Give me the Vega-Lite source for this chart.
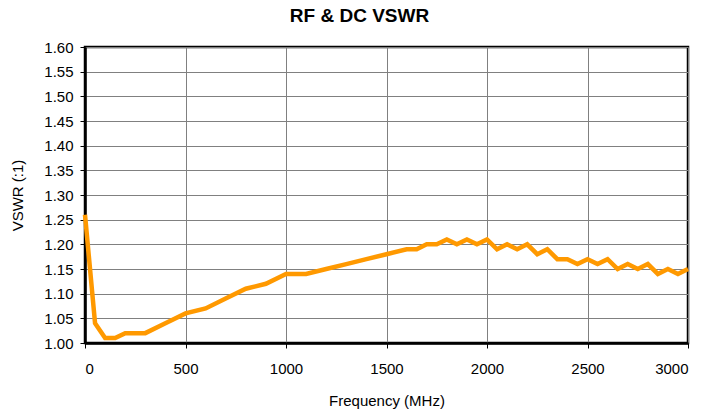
{
  "$schema": "https://vega.github.io/schema/vega-lite/v6.json",
  "autosize": "none",
  "width": 603,
  "height": 296,
  "padding": {"left": 85, "top": 47, "right": 35, "bottom": 71},
  "background": "white",
  "config": {
    "font": "Liberation Sans",
    "view": {"stroke": "black", "strokeWidth": 2.5}
  },
  "title": {
    "text": "RF & DC VSWR",
    "fontSize": 19,
    "fontWeight": "bold",
    "font": "Liberation Sans",
    "color": "black",
    "anchor": "middle",
    "frame": "group",
    "dx": -27,
    "offset": 14
  },
  "data": {
    "values": [
      {"f": 0, "v": 1.26},
      {"f": 50, "v": 1.04},
      {"f": 100, "v": 1.01},
      {"f": 150, "v": 1.01},
      {"f": 200, "v": 1.02},
      {"f": 300, "v": 1.02},
      {"f": 400, "v": 1.04},
      {"f": 500, "v": 1.06},
      {"f": 600, "v": 1.07},
      {"f": 700, "v": 1.09},
      {"f": 800, "v": 1.11},
      {"f": 900, "v": 1.12},
      {"f": 1000, "v": 1.14},
      {"f": 1100, "v": 1.14},
      {"f": 1200, "v": 1.15},
      {"f": 1300, "v": 1.16},
      {"f": 1400, "v": 1.17},
      {"f": 1500, "v": 1.18},
      {"f": 1600, "v": 1.19},
      {"f": 1650, "v": 1.19},
      {"f": 1700, "v": 1.2},
      {"f": 1750, "v": 1.2},
      {"f": 1800, "v": 1.21},
      {"f": 1850, "v": 1.2},
      {"f": 1900, "v": 1.21},
      {"f": 1950, "v": 1.2},
      {"f": 2000, "v": 1.21},
      {"f": 2050, "v": 1.19},
      {"f": 2100, "v": 1.2},
      {"f": 2150, "v": 1.19},
      {"f": 2200, "v": 1.2},
      {"f": 2250, "v": 1.18},
      {"f": 2300, "v": 1.19},
      {"f": 2350, "v": 1.17},
      {"f": 2400, "v": 1.17},
      {"f": 2450, "v": 1.16},
      {"f": 2500, "v": 1.17},
      {"f": 2550, "v": 1.16},
      {"f": 2600, "v": 1.17},
      {"f": 2650, "v": 1.15},
      {"f": 2700, "v": 1.16},
      {"f": 2750, "v": 1.15},
      {"f": 2800, "v": 1.16},
      {"f": 2850, "v": 1.14},
      {"f": 2900, "v": 1.15},
      {"f": 2950, "v": 1.14},
      {"f": 3000, "v": 1.15}
    ]
  },
  "mark": {"type": "line", "color": "#FF9900", "strokeWidth": 4.5, "strokeJoin": "miter", "clip": false},
  "encoding": {
    "x": {
      "field": "f",
      "type": "quantitative",
      "scale": {"domain": [0, 3000], "nice": false, "zero": false},
      "axis": {
        "title": "Frequency (MHz)",
        "values": [0, 500, 1000, 1500, 2000, 2500, 3000],
        "format": "d",
        "labelFontSize": 15,
        "labelColor": "black",
        "labelPadding": 13,
        "titleFontSize": 15,
        "titleFontWeight": "normal",
        "titleColor": "black",
        "titlePadding": 17,
        "domainColor": "black",
        "domainWidth": 2.5,
        "tickColor": "black",
        "tickSize": 5,
        "gridColor": "#808080",
        "gridOpacity": 1,
        "gridWidth": 1
      }
    },
    "y": {
      "field": "v",
      "type": "quantitative",
      "scale": {"domain": [1.0, 1.6], "nice": false, "zero": false},
      "axis": {
        "title": "VSWR (:1)",
        "values": [1.0, 1.05, 1.1, 1.15, 1.2, 1.25, 1.3, 1.35, 1.4, 1.45, 1.5, 1.55, 1.6],
        "format": ".2f",
        "labelFontSize": 15,
        "labelColor": "black",
        "labelPadding": 7,
        "titleFontSize": 15,
        "titleFontWeight": "normal",
        "titleColor": "black",
        "titlePadding": 18,
        "domainColor": "black",
        "domainWidth": 2.5,
        "tickColor": "black",
        "tickSize": 5,
        "gridColor": "#808080",
        "gridOpacity": 1,
        "gridWidth": 1
      }
    }
  }
}
